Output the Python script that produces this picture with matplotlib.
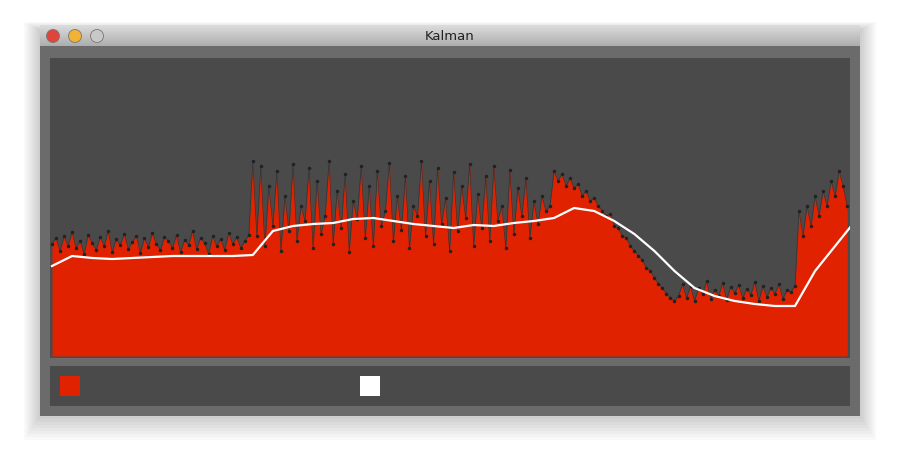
import numpy as np
import matplotlib.pyplot as plt
from matplotlib.patches import Rectangle, Ellipse

measured = [112,118,105,120,110,124,108,115,102,121,113,106,119,110,125,104,117,111,122,107,114,120,103,118,109,123,112,106,119,115,108,121,104,116,111,125,107,118,113,102,120,110,117,106,123,112,119,108,115,121,
 195,120,190,110,170,130,185,105,160,125,192,115,150,135,188,108,175,122,140,195,112,165,128,182,104,155,137,190,118,170,110,185,130,145,193,115,160,126,180,108,150,140,195,120,175,112,188,132,158,105,184,125,170,138,192,110,162,128,180,115,190,135,150,108,186,122,168,140,178,118,155,132,160,145,150,
 185,175,182,170,178,168,172,160,165,155,158,150,
 145,140,142,130,128,120,118,110,105,100,96,88,85,78,72,68,62,58,55,60,
 72,58,70,55,68,62,75,57,66,60,73,56,69,63,71,58,67,61,74,55,70,59,68,62,72,57,66,64,70,
 145,120,150,130,160,140,165,150,175,160,185,170,150]
kalman_idx = [0,5,10,15,20,25,30,35,40,45,50,55,60,65,70,75,80,85,90,95,100,105,110,115,120,125,130,135,140,145,150,155,160,165,170,175,180,185,190,195,199]
kalman = [90,100,98,97,98,99,100,100,100,100,101,125,130,132,133,137,138,135,132,130,128,131,130,133,135,138,148,145,135,122,105,85,68,60,55,52,50,50,85,110,130]

W, H = 900, 472
fig = plt.figure(figsize=(W/100, H/100), dpi=100)
fig.patch.set_facecolor('white')
def R(x0, y0, x1, y1, **kw):
    fig.patches.append(Rectangle((x0/W, 1-y1/H), (x1-x0)/W, (y1-y0)/H, transform=fig.transFigure, **kw))
for i in range(8, 0, -1):
    R(40-i*2, 30-i, 860+i*2, 416+i*3, facecolor='black', alpha=0.025, linewidth=0)
R(40, 46, 860, 416, facecolor='#6b6b6b', linewidth=0)
for k in range(21):
    c = 0.86 - 0.18*k/20
    R(40, 25+k, 860, 26+k, facecolor=(c, c, c), linewidth=0)
fig.text(450/W, 1-36/H, 'Kalman', ha='center', va='center', fontsize=9.5, color='#222222')
for cx, col in [(53, '#e0443b'), (75, '#f2b233'), (97, '#c8c8c8')]:
    fig.patches.append(Ellipse((cx/W, 1-36/H), 13/W, 13/H, transform=fig.transFigure, facecolor=col, edgecolor='#777777', linewidth=0.6))
R(50, 366, 850, 406, facecolor='#4a4a4a', linewidth=0)
R(60, 376, 80, 396, facecolor='#e02200', linewidth=0)
R(360, 376, 380, 396, facecolor='white', linewidth=0)

ax = fig.add_axes([50/W, (H-358)/H, 800/W, 300/H])
ax.set_zorder(5)
ax.set_facecolor('#4a4a4a')
x = np.arange(len(measured))
ax.fill_between(x, 0, measured, color='#e02200', linewidth=0)
ax.plot(x, measured, color='#333333', linewidth=0.5)
ax.plot(x, measured, 'o', color='#222222', markersize=1.5)
ax.plot(kalman_idx, kalman, color='white', linewidth=1.6)
ax.set_xlim(-0.5, len(measured) - 0.3)
ax.set_ylim(-2, 298)
ax.set_xticks([]); ax.set_yticks([])
for s in ax.spines.values():
    s.set_visible(False)
fig.savefig('out.png', dpi=100)
